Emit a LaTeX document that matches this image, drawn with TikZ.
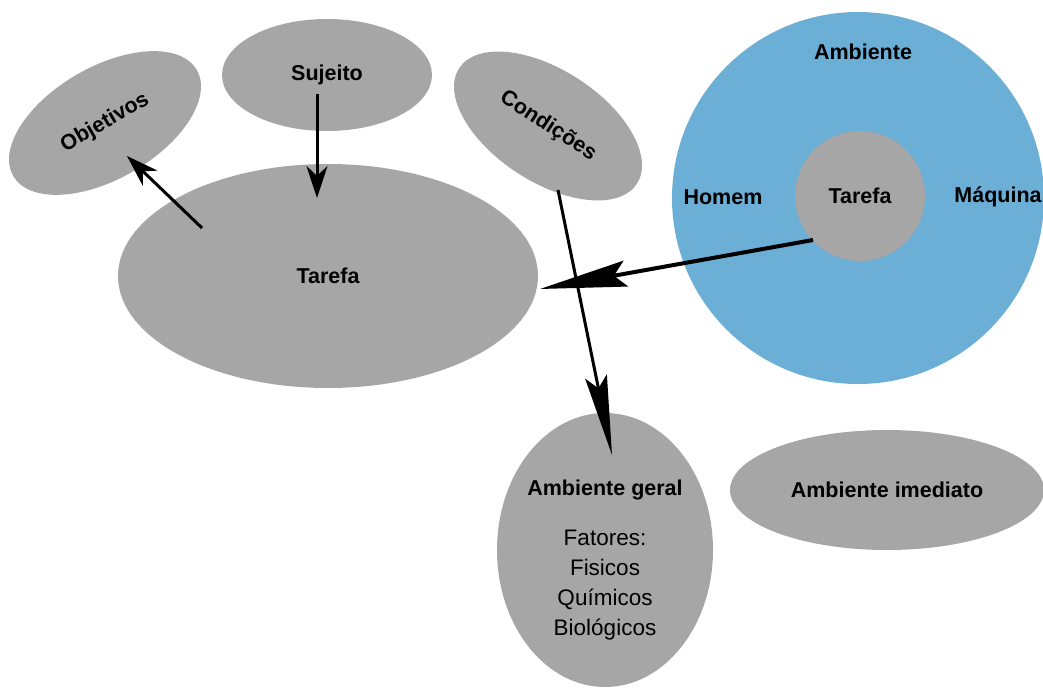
\documentclass[tikz,border=0pt]{standalone}
\usepackage{fontspec}
\setmainfont{Liberation Sans}
\usetikzlibrary{shapes.geometric,arrows.meta}
\definecolor{gr}{RGB}{166,166,166}
\definecolor{bl}{RGB}{107,174,214}
\begin{document}
\begin{tikzpicture}[x=1pt,y=-1pt,
 blob/.style={ellipse,fill=gr,inner sep=0pt},
 lbl/.style={font=\fontsize{21.5}{25}\selectfont\bfseries},
 txt/.style={font=\fontsize{22.5}{30}\selectfont},
 arr/.style={line width=3pt,-{Stealth[length=32pt,width=21pt,inset=10pt]}},
 longarr/.style={line width=3pt,-{Stealth[length=80pt,width=22pt,inset=12pt]}},
 bigarr/.style={line width=4pt,-{Stealth[length=87pt,width=26pt,inset=12pt]}},
]
\useasboundingbox (0,0) rectangle (1043,690);
% ellipses
\node[blob,lbl,minimum width=212pt,minimum height=112pt,rotate=30] (obj) at (105,123) {Objetivos};
\node[blob,lbl,minimum width=210pt,minimum height=112pt] (suj) at (327,75) {Sujeito};
\node[blob,lbl,minimum width=212pt,minimum height=112pt,rotate=-33] (cond) at (548,126) {Condições};
\node[blob,lbl,minimum width=420pt,minimum height=224pt] (tar) at (328,276) {Tarefa};
% environment circle
\node[circle,fill=bl,inner sep=0pt,minimum size=372pt] (amb) at (858,198) {};
\node[lbl] (ambt) at (863,52) {Ambiente};
\node[lbl] (hom) at (723,197) {Homem};
\node[lbl] (maq) at (998,197) {Máquina};
\node[circle,fill=gr,inner sep=0pt,minimum size=130pt,lbl] (tar2) at (860,196) {Tarefa};
% lower ellipses
\node[blob,minimum width=216pt,minimum height=274pt] (ag) at (605,550) {};
\node[lbl] (agt) at (605,490) {Ambiente geral};
\node[txt,align=center] (agf) at (605,585) {Fatores:\\Fisicos\\Químicos\\Biológicos};
\node[blob,lbl,minimum width=314pt,minimum height=120pt] (ai) at (887,490) {Ambiente imediato};
% connector ends
\coordinate (s1) at (317,94);
\coordinate (e1) at (317,198);
\coordinate (s2) at (202,228);
\coordinate (e2) at (127,156);
\coordinate (s3) at (558,190);
\coordinate (e3) at (612,455);
\coordinate (s4) at (813,240);
\coordinate (e4) at (540,289);
\draw[arr] (s1) -- (e1);
\draw[arr] (s2) -- (e2);
\draw[longarr] (s3) -- (e3);
\draw[bigarr] (s4) -- (e4);
\end{tikzpicture}
\end{document}
